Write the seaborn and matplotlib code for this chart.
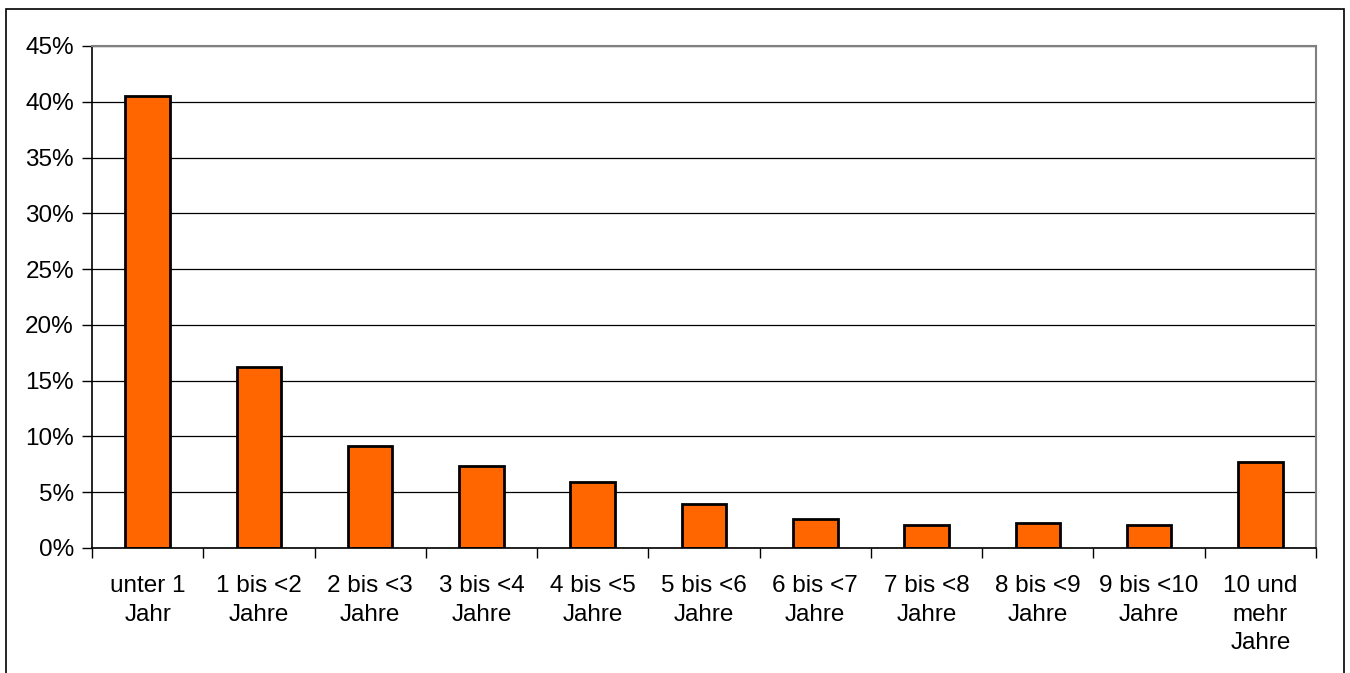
import matplotlib
matplotlib.use("Agg")
import matplotlib.pyplot as plt
import matplotlib.patches as mpatches
from matplotlib.ticker import FixedLocator, PercentFormatter
import seaborn as sns
import pandas as pd
import numpy as np

categories = ["unter 1\nJahr", "1 bis <2\nJahre", "2 bis <3\nJahre", "3 bis <4\nJahre",
              "4 bis <5\nJahre", "5 bis <6\nJahre", "6 bis <7\nJahre", "7 bis <8\nJahre",
              "8 bis <9\nJahre", "9 bis <10\nJahre", "10 und\nmehr\nJahre"]
values = [40.5, 16.2, 9.15, 7.35, 5.95, 3.95, 2.6, 2.02, 2.28, 2.04, 7.75]
y_ticks = [0, 5, 10, 15, 20, 25, 30, 35, 40, 45]

sns.set_theme(style="white")
plt.rcParams['font.family'] = ['Liberation Sans', 'DejaVu Sans']

df = pd.DataFrame({"cat": categories, "val": values})

W, H = 1350, 673
fig = plt.figure(figsize=(W / 100, H / 100), dpi=100)
ax = fig.add_axes([92 / W, (H - 548) / H, (1316 - 92) / W, (548 - 46) / H])

sns.barplot(data=df, x="cat", y="val", color="#FF6600", saturation=1,
            edgecolor="black", linewidth=2.0, width=0.4, ax=ax)

ax.set_xlim(-0.5, len(categories) - 0.5)
ax.set_ylim(0, 45)
ax.yaxis.set_major_locator(FixedLocator(y_ticks))
ax.yaxis.set_major_formatter(PercentFormatter(decimals=0))
ax.yaxis.grid(True, color="black", linewidth=0.9)
ax.set_axisbelow(True)
ax.set_xlabel("")
ax.set_ylabel("")

ax.tick_params(axis="y", which="major", direction="out", length=7, width=1,
               color="black", pad=6, labelsize=17.5, labelcolor="black", left=True)
ax.tick_params(axis="x", which="major", length=0, pad=19.5, labelsize=17.5,
               labelcolor="black")
ax.set_xticks(np.arange(-0.5, len(categories)), minor=True)
ax.tick_params(axis="x", which="minor", direction="out", length=7, width=1,
               color="black", bottom=True)

for t in ax.get_xticklabels():
    t.set_linespacing(1.39)
    t.set_horizontalalignment("center")

for s in ["left", "bottom"]:
    ax.spines[s].set_color("black")
    ax.spines[s].set_linewidth(1.2)
for s in ["top", "right"]:
    ax.spines[s].set_color("#808080")
    ax.spines[s].set_linewidth(1.5)

frame = mpatches.Rectangle((6 / W, -0.05), (1344 - 6) / W, 1.05 - 9 / H,
                           transform=fig.transFigure, fill=False,
                           edgecolor="black", linewidth=1.2, clip_on=False)
fig.patches.append(frame)

fig.savefig("out.png", dpi=100, facecolor="white")
